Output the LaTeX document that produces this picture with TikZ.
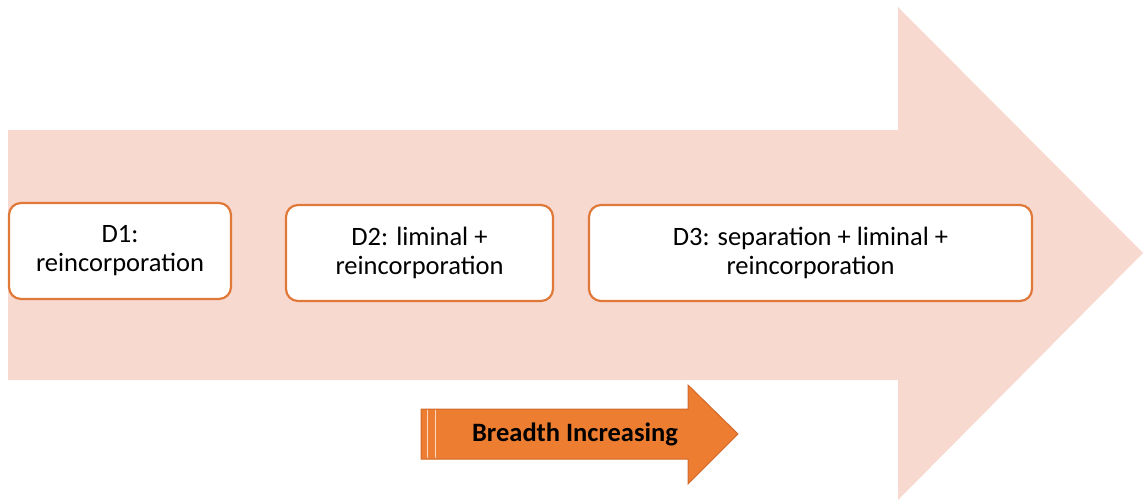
\documentclass[tikz,border=0pt]{standalone}
\usepackage{fontspec}
\setmainfont{Carlito}
\definecolor{peach}{HTML}{F8D9CF}
\definecolor{boxorange}{HTML}{E0783A}
\definecolor{arrorange}{HTML}{ED7D31}
\definecolor{arrdark}{HTML}{D2692A}
\begin{document}
\begin{tikzpicture}[x=1pt,y=-1pt,
  stagebox/.style={draw=boxorange, line width=2.2pt, fill=white, rounded corners=12pt, align=center, font=\fontsize{26.5}{29}\selectfont, inner sep=0pt},
  stripe/.style={draw=white!70!arrorange, line width=0.8pt}]
\useasboundingbox (0,0) rectangle (1144,501);
% big arrow
\fill[peach] (8,130) -- (898,130) -- (898,7) -- (1143,253) -- (898,500) -- (898,380) -- (8,380) -- cycle;
% stage boxes
\node[stagebox, minimum width=222pt, minimum height=96pt] (d1) at (120,251) {D1:\\reincorporation};
\node[stagebox, minimum width=267pt, minimum height=96pt] (d2) at (419.5,253) {D2: liminal +\\reincorporation};
\node[stagebox, minimum width=443pt, minimum height=96pt] (d3) at (810.5,253) {D3: separation + liminal +\\reincorporation};
% small arrow
\filldraw[fill=arrorange, draw=arrdark, line width=1pt, line join=miter] (421,409) -- (688,409) -- (688,385) -- (738,434) -- (688,484) -- (688,459) -- (421,459) -- cycle;
\draw[stripe] (427,410) -- (427,458);
\draw[stripe] (435,410) -- (435,458);
\node[font=\fontsize{26.5}{30}\selectfont\bfseries, inner sep=0pt] (lbl) at (575,434) {Breadth Increasing};
\end{tikzpicture}
\end{document}
